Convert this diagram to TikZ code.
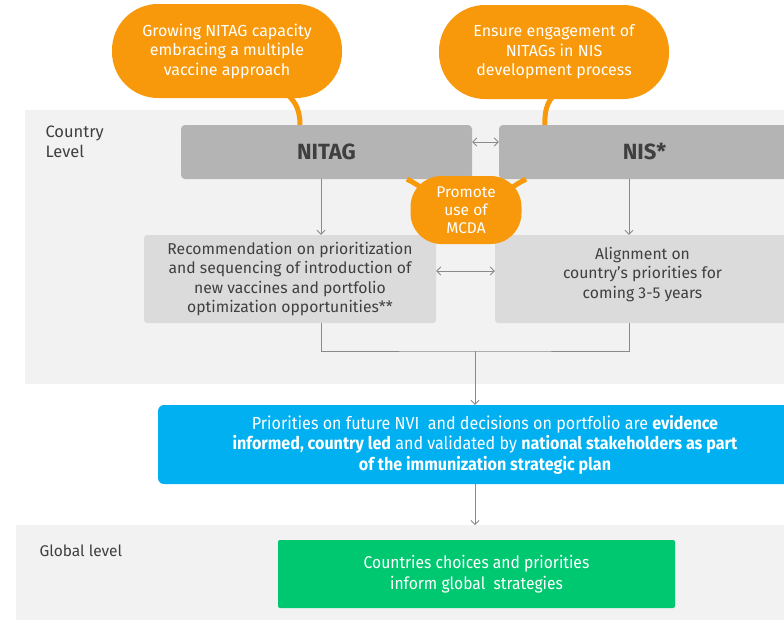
\documentclass[tikz,border=0pt]{standalone}
\usepackage{fontspec}
\setmainfont{Fira Sans}
\newfontfamily\narrow[FakeStretch=0.92]{Fira Sans}
\usetikzlibrary{arrows.meta}

\definecolor{bandgrey}{HTML}{F2F2F2}
\definecolor{boxgrey}{HTML}{B4B4B4}
\definecolor{palegrey}{HTML}{DBDBDB}
\definecolor{calloutorange}{HTML}{F7990B}
\definecolor{nviblue}{HTML}{00B0F0}
\definecolor{globalgreen}{HTML}{00C870}
\definecolor{textgrey}{HTML}{3F3F3F}
\definecolor{linegrey}{HTML}{8A8A8A}

\begin{document}
\begin{tikzpicture}[
    x=1pt, y=-1pt,
    band/.style={fill=bandgrey, anchor=north west, inner sep=0pt},
    callout/.style={
        fill=calloutorange, rounded corners=46pt,
        minimum width=230pt, minimum height=94pt,
        align=center, text=white, font=\fontsize{16}{19.5}\selectfont
    },
    headbox/.style={
        fill=boxgrey, rounded corners=4pt, minimum height=54pt,
        text=textgrey, font=\bfseries\fontsize{22}{24}\selectfont
    },
    outbox/.style={
        fill=palegrey, rounded corners=3pt, minimum height=88pt,
        align=center, text=textgrey, font=\fontsize{15.7}{19.5}\selectfont
    },
    tail/.style={draw=calloutorange, line width=5pt},
    arr/.style={-{Straight Barb[length=4pt, width=8pt]}, draw=linegrey, line width=0.8pt},
    biarr/.style={{Straight Barb[length=4pt, width=8pt]}-{Straight Barb[length=4pt, width=8pt]}, draw=linegrey, line width=0.8pt},
    link/.style={draw=linegrey, line width=0.8pt}
]
\useasboundingbox (0,0) rectangle (784,619);
\clip (0,0) rectangle (784,619);

%% ---- Level bands ----
\node[band, minimum width=780pt, minimum height=274pt] at (25,110) (country) {};
\node[band, minimum width=790pt, minimum height=100pt] at (16,525) (global) {};

\node[anchor=north west, align=left, text=textgrey, font=\fontsize{16.5}{20}\selectfont]
    at (42,122) (countrylbl) {Country\\Level};
\node[anchor=north west, text=textgrey, font=\fontsize{15.5}{20}\selectfont]
    at (36,541) (globallbl) {Global level};

%% ---- Country level boxes ----
\node[headbox, minimum width=291pt] at (326.5,152) (nitag) {NITAG};
\node[headbox, minimum width=291pt] at (644.5,152) (nis)   {NIS*};

\node[outbox, minimum width=292pt] at (290,279)   (rec)
    {Recommendation on prioritization\\and sequencing of introduction of\\new vaccines and portfolio\\optimization opportunities**};
\node[outbox, minimum width=295pt] at (642.5,279) (align)
    {Alignment on\\country's priorities for\\coming 3-5 years\\[-7pt]};

% columns of the down arrows
\coordinate (lcol) at (321,0);
\coordinate (rcol) at (629,0);
\coordinate (join) at (475,351);

%% ---- Outcome boxes ----
\node[fill=nviblue, rounded corners=6pt, minimum width=654pt, minimum height=79pt,
      align=center, text=white, font=\narrow\fontsize{17.5}{20.5}\selectfont]
    at (485,444.5) (nvi) {
    Priorities on future NVI\ \ and decisions on portfolio are \textbf{evidence}\\
    \textbf{informed, country led} and validated by \textbf{national stakeholders as part}\\
    \textbf{of the immunization strategic plan}};

\node[fill=globalgreen, rounded corners=2pt, minimum width=397pt, minimum height=68pt,
      align=center, text=white, font=\narrow\fontsize{17}{21}\selectfont]
    at (476.5,574) (choices) {Countries choices and priorities\\inform global\ \ strategies};

%% ---- Arrows ----
\draw[biarr] ([yshift=10pt]nitag.east) -- ([yshift=10pt]nis.west);
\draw[arr] (nitag.south -| lcol) -- (rec.north -| lcol);
\draw[arr] (nis.south -| rcol) -- (align.north -| rcol);
\draw[biarr] ([yshift=8pt]rec.east) -- ([yshift=8pt]align.west);

% both outputs merge and feed the plan
\draw[link] (rec.south -| lcol) |- (join) -| (align.south -| rcol);
\draw[arr] (join) -- (join |- nvi.north);
\draw[arr] (nvi.south -| join) -- (global.north -| join);

%% ---- Orange callouts ----
\node[callout] at (227,51) (grow)
    {Growing NITAG capacity\\embracing a multiple\\vaccine approach};
\node[callout] at (554,52) (engage)
    {Ensure engagement of\\NITAGs in NIS\\development process};

\draw[tail] ([xshift=61pt, yshift=3pt]grow.south) .. controls +(9,8) and +(0,-12) .. ([xshift=-26.5pt]nitag.north);
\draw[tail] ([xshift=-1pt, yshift=3pt]engage.south) .. controls +(-7,8) and +(0,-12) .. ([xshift=46pt]nis.north west);

% MCDA bubble hanging from both boxes
\draw[tail] (424,190) .. controls +(-6,-5) and +(6,3) .. (nitag.south -| 407,0);
\draw[tail] (509,190) .. controls +(6,-5) and +(-6,3) .. (nis.south -| 526,0);
\node[fill=calloutorange, rounded corners=31pt, minimum width=111pt, minimum height=68pt,
      align=center, text=white, font=\fontsize{15.5}{18}\selectfont]
    at (466,210) (mcda) {Promote\\use of\\MCDA};

\end{tikzpicture}
\end{document}
